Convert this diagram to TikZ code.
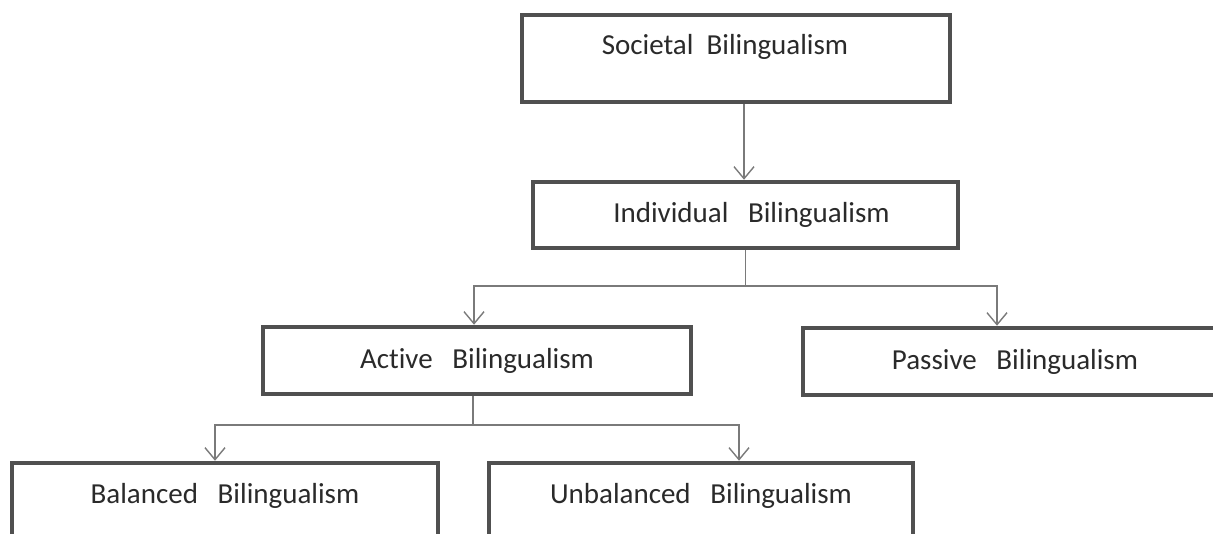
\documentclass[tikz,border=0pt]{standalone}
\usepackage{fontspec}
\setmainfont[Ligatures=NoCommon]{Carlito}
\usetikzlibrary{arrows.meta}
\definecolor{boxline}{HTML}{505050}
\definecolor{connline}{HTML}{7A7A7A}
\definecolor{txt}{HTML}{2A2A2A}
\tikzset{
  box/.style={draw=boxline, line width=4.5pt, rectangle, inner sep=0pt, fill=white},
  lbl/.style={font=\fontsize{29}{34}\selectfont, text=txt, inner sep=0pt},
  conn/.style={draw=connline, line width=1.6pt},
  arr/.style={conn, -{Straight Barb[length=12pt,width=20pt,line width=1.4pt]}}
}
\begin{document}
\begin{tikzpicture}[x=1pt,y=-1pt]
\useasboundingbox (0,0) rectangle (1213,533);
\clip (0,0) rectangle (1213,533);
\fill[white] (0,0) rectangle (1213,533);
% boxes
\node[box, minimum width=428, minimum height=87] (soc) at (736,58.5) {};
\node[lbl] (soct) at ([xshift=-11,yshift=11.5]soc.center) {Societal\ \ Bilingualism};
\node[box, minimum width=425, minimum height=66] (ind) at (745.5,215) {};
\node[lbl] (indt) at ([xshift=6]ind.center) {Individual\ \ \ Bilingualism};
\node[box, minimum width=428, minimum height=67] (act) at (477,360.5) {};
\node[lbl] (actt) at (act.center) {Active\ \ \ Bilingualism};
\node[box, minimum width=427, minimum height=67] (pas) at (1016.5,361.5) {};
\node[lbl] (past) at ([xshift=-1.5]pas.center) {Passive\ \ \ Bilingualism};
\node[box, minimum width=426, minimum height=84] (bal) at (225,505) {};
\node[lbl] (balt) at ([yshift=9]bal.center) {Balanced\ \ \ Bilingualism};
\node[box, minimum width=424, minimum height=84] (unb) at (701,505) {};
\node[lbl] (unbt) at ([yshift=9]unb.center) {Unbalanced\ \ \ Bilingualism};
% connectors
\draw[arr] ([xshift=8]soc.south) -- ([xshift=-1.5]ind.north);
\coordinate (split1) at (745.5,286);
\draw[conn] (ind.south) -- (split1);
\draw[arr] (split1) -| ([xshift=-3]act.north);
\draw[arr] (split1) -| ([xshift=-19.5]pas.north);
\coordinate (split2) at (473,425);
\draw[conn] ([xshift=-4]act.south) -- (split2);
\draw[arr] (split2) -| ([xshift=-10]bal.north);
\draw[arr] (split2) -| ([xshift=38]unb.north);
\end{tikzpicture}
\end{document}
